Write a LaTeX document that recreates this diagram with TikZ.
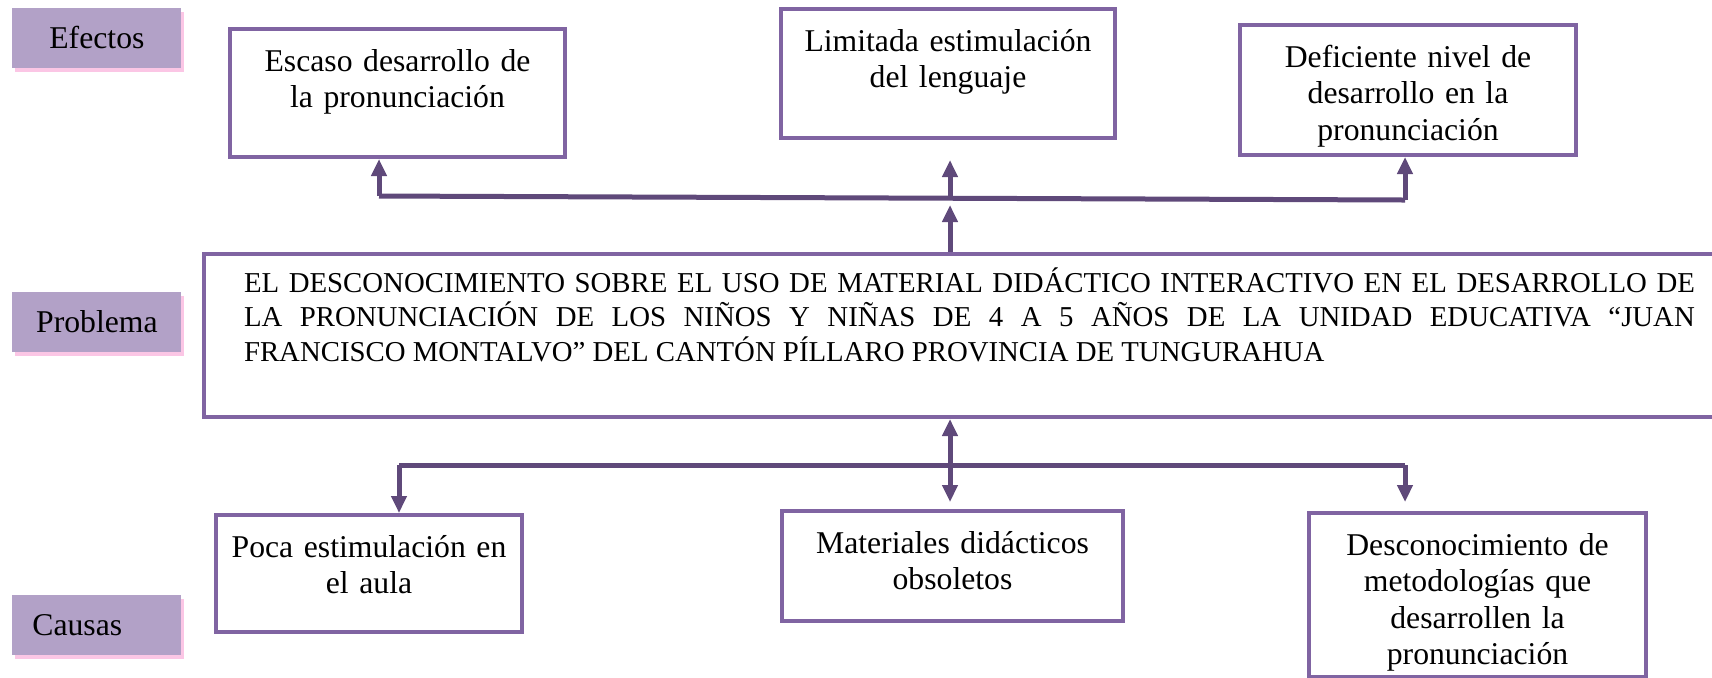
\documentclass[tikz,border=0pt]{standalone}
\usepackage{fontspec}
\setmainfont{Liberation Serif}
\usetikzlibrary{arrows.meta,shadows}

\newdimen\pu \pu=0.5pt
\newcommand\cajafont{\fontsize{15.85pt}{18.25pt}\selectfont}
\newcommand\probfont{\fontsize{14.4pt}{17.25pt}\selectfont}
\definecolor{boxline}{HTML}{8064A2}
\definecolor{arrowline}{HTML}{5F497A}
\definecolor{lblfill}{HTML}{B2A1C7}

\begin{document}
\begin{tikzpicture}[x=0.5pt,y=-0.5pt,>={Triangle[length=8.5pt,width=7.5pt]},
  lbl/.style={fill=lblfill,minimum width=169\pu,minimum height=60\pu,inner sep=0pt,
    font=\cajafont,text height=10.5pt,text depth=0pt,anchor=north west,
    drop shadow={shadow xshift=3\pu,shadow yshift=-4\pu,fill=magenta!30,opacity=.75}},
  caja/.style={draw=boxline,line width=2pt,fill=white,inner sep=0pt,align=center,
    font=\cajafont,text height=21pt,anchor=north west},
  conn/.style={draw=arrowline,line width=2.5pt},
  every edge/.style={conn,->}]

\useasboundingbox (0,0) rectangle (1712,677);

% etiquetas
\node[lbl] (L1) at (12,8) {Efectos};
\node[lbl] (L2) at (12,292) {Problema};
\node[lbl,text width=129\pu,inner xsep=20\pu,align=left] (L3) at (12,595) {Causas};

% efectos
\node[caja,text width=335\pu,text depth=43pt]   (E1) at (228,27)  {Escaso desarrollo de\\la pronunciación};
\node[caja,text width=334\pu,text depth=43.5pt] (E2) at (779,7)   {Limitada estimulación\\del lenguaje};
\node[caja,text width=336\pu,text depth=44pt]   (E3) at (1238,23) {Deficiente nivel de\\desarrollo en la\\pronunciación};

% problema
\node[caja,font=\probfont,align=justify,text width=1451\pu,inner xsep=40\pu,
      text height=19pt,text depth=62.5pt] (P) at (202,252)
  {EL DESCONOCIMIENTO SOBRE EL USO DE MATERIAL DIDÁCTICO INTERACTIVO EN EL DESARROLLO DE\linebreak
   LA PRONUNCIACIÓN DE LOS NIÑOS Y NIÑAS DE 4 A 5 AÑOS DE LA UNIDAD EDUCATIVA “JUAN\linebreak
   FRANCISCO MONTALVO” DEL CANTÓN PÍLLARO PROVINCIA DE TUNGURAHUA};

% causas
\node[caja,text width=306\pu,text depth=37.5pt] (C1) at (214,513)  {Poca estimulación en\\el aula};
\node[caja,text width=341\pu,text depth=34pt]   (C2) at (780,509)  {Materiales didácticos\\obsoletos};
\node[caja,text width=337\pu,text depth=61pt]   (C3) at (1307,511) {Desconocimiento de\\metodologías que\\desarrollen la\\pronunciación};

\coordinate (T1) at (379,196);
\coordinate (T2) at (950,198);
\coordinate (T3) at (1405,200);
\coordinate (B1) at (399,465);
\coordinate (B2) at (950,465);
\coordinate (B3) at (1405,465);

\draw[conn] (T1) -- (T3);
\draw[conn] (B1) -- (B3);

\path
(T1) edge (T1 |- E1.south)
(T3) edge (T3 |- E3.south)
(T2) edge [shorten >=10pt] (T2 |- E2.south)
(P.north -| T2) edge [shorten >=3.5pt] (T2)
(B2) edge (B2 |- P.south)
(B1) edge (B1 |- C1.north)
(B2) edge [shorten >=3.5pt] (B2 |- C2.north)
(B3) edge [shorten >=4.5pt] (B3 |- C3.north);
\end{tikzpicture}
\end{document}
